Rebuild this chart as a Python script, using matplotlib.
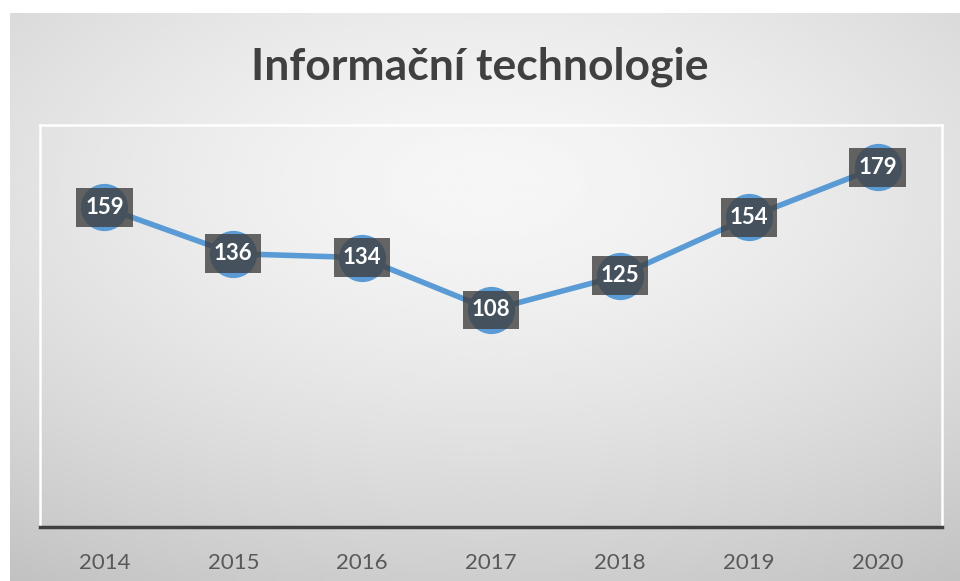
import matplotlib.pyplot as plt
import numpy as np

years = ['2014', '2015', '2016', '2017', '2018', '2019', '2020']
values = [159, 136, 134, 108, 125, 154, 179]

fig = plt.figure(figsize=(9.6, 5.81), dpi=100, facecolor='white')

# radial grey background of the chart area, lightest near the top middle
bg = fig.add_axes([10 / 960, 0, 950 / 960, 568 / 581])
yy, xx = np.mgrid[-0.6:1.4:300j, -1:1:500j]
r = np.sqrt(xx ** 2 + (yy * 1.1) ** 2) / 1.8
bg.imshow(0.965 - 0.2 * r ** 1.5, cmap='gray', vmin=0, vmax=1,
          aspect='auto', extent=[0, 1, 0, 1], interpolation='bicubic')
bg.set_axis_off()

fig.text(0.5, 1 - 67 / 581, 'Informační technologie', ha='center', va='center',
         fontsize=32, fontweight='bold', color='#404040', family='Lato')

ax = fig.add_axes([40 / 960, 54 / 581, 902 / 960, 402 / 581])
ax.patch.set_alpha(0)
x = np.arange(len(years))
ax.plot(x, values, color='#5b9bd5', lw=4, marker='o', ms=33,
        markerfacecolor='#5b9bd5', markeredgecolor='#5b9bd5', zorder=2)

for xi, v in zip(x, values):
    ax.text(xi, v, str(v), ha='center', va='center', fontsize=16,
            fontweight='bold', color='white', family='Lato', zorder=4,
            bbox=dict(boxstyle='square,pad=0.4', facecolor='#404040',
                      edgecolor='none', alpha=0.8))

ax.set_xlim(-0.5, len(years) - 0.5)
ax.set_ylim(0, 200)
ax.set_yticks([])
ax.set_xticks(x)
ax.set_xticklabels(years, fontsize=16, color='#595959', family='Lato')
ax.tick_params(axis='x', length=0, pad=19)

for side in ['top', 'left', 'right']:
    ax.spines[side].set_color('white')
    ax.spines[side].set_linewidth(1.8)
ax.spines['bottom'].set_color('#404040')
ax.spines['bottom'].set_linewidth(2.5)

fig.savefig('out.png', dpi=100)
